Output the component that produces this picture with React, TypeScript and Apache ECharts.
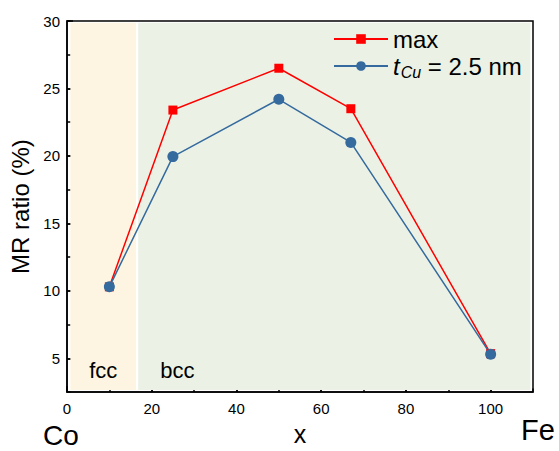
import React, { useEffect, useRef } from "react";
import * as echarts from "echarts";

const xValues = [10, 25, 50, 67, 100];
const maxValues = [10.3, 23.4, 26.5, 23.5, 5.35];
const tCuValues = [10.3, 19.95, 24.2, 21.0, 5.3];
const seriesNames = ["max", "tCu"];
const phaseNames = ["fcc", "bcc"];
const phaseRanges = [
  [0.8, 16.3],
  [16.8, 109.4],
];
const phaseColors = ["#fdf5e1", "#ebf2e5"];
const xTicks = { min: 0, max: 110, major: 20, minor: 10 };
const yTicks = { min: 2.5, max: 30, minor: 2.5 };
const endLabels = ["Co", "Fe"];

const FONT = "'Liberation Sans', Arial, sans-serif";

export default function App() {
  const ref = useRef<HTMLDivElement>(null);
  useEffect(() => {
    document.body.style.margin = "0";
    if (!ref.current) return;
    const chart = echarts.init(ref.current, null, { renderer: "svg" });
    const red = "#ff0000";
    const blue = "#356a9e";
    const markAreaData = phaseNames.map((name, i) => [
      {
        name,
        xAxis: phaseRanges[i][0],
        yAxis: 2.66,
        itemStyle: { color: phaseColors[i] },
        label:
          i === 0
            ? { show: true, position: "insideBottom", distance: 8, fontSize: 22, color: "#000", fontFamily: FONT }
            : { show: true, position: "insideBottomLeft", distance: 8, offset: [14, 0], fontSize: 22, color: "#000", fontFamily: FONT },
      },
      { xAxis: phaseRanges[i][1], yAxis: 29.87 },
    ]);
    chart.setOption({
      animation: false,
      textStyle: { fontFamily: FONT },
      grid: {
        left: 67,
        right: 26,
        top: 21,
        bottom: 57,
        show: true,
        borderColor: "#000",
        borderWidth: 1.5,
        backgroundColor: "#fff",
      },
      legend: {
        left: 333,
        top: 27,
        padding: 0,
        orient: "vertical",
        itemWidth: 54,
        itemHeight: 12,
        itemGap: 3,
        data: seriesNames,
        textStyle: {
          fontSize: 24,
          color: "#000",
          fontFamily: FONT,
          rich: {
            i: { fontSize: 24, fontStyle: "italic", fontFamily: FONT, color: "#000" },
            s: { fontSize: 16, fontStyle: "italic", fontFamily: FONT, color: "#000", padding: [12, 0, 0, 1] },
            n: { fontSize: 24, fontFamily: FONT, color: "#000" },
          },
        },
        formatter: (name: string) => (name === "tCu" ? "{i|t}{s|Cu}{n| = 2.5 nm}" : name),
      },
      graphic: [
        { type: "text", left: 43, top: 421, style: { text: endLabels[0], fontSize: 28, lineHeight: 26, fontFamily: FONT, fill: "#000" } },
        { type: "text", left: 521, top: 415, style: { text: endLabels[1], fontSize: 29, lineHeight: 26, fontFamily: FONT, fill: "#000" } },
      ],
      xAxis: [
        {
          type: "value",
          position: "bottom",
          min: xTicks.min,
          max: xTicks.max,
          interval: xTicks.major,
          name: "x",
          nameLocation: "middle",
          nameGap: 24,
          nameTextStyle: { fontSize: 25, color: "#000", fontFamily: FONT },
          axisLine: { show: true, lineStyle: { color: "#000", width: 1.5 } },
          axisTick: { show: true, inside: true, length: 6, lineStyle: { color: "#000", width: 1.5 } },
          axisLabel: { fontSize: 15, color: "#000", margin: 9, showMaxLabel: false },
          splitLine: { show: false },
        },
        {
          type: "value",
          position: "bottom",
          min: xTicks.min,
          max: xTicks.max,
          interval: xTicks.minor,
          axisLine: { show: false },
          axisTick: { show: true, inside: true, length: 3.5, lineStyle: { color: "#000", width: 1.5 } },
          axisLabel: { show: false },
          splitLine: { show: false },
        },
      ],
      yAxis: [
        {
          type: "value",
          position: "left",
          min: yTicks.min,
          max: yTicks.max,
          name: "MR ratio (%)",
          nameLocation: "middle",
          nameGap: 28,
          nameTextStyle: { fontSize: 24, color: "#000", fontFamily: FONT },
          axisLine: { show: true, lineStyle: { color: "#000", width: 1.5 } },
          axisTick: { show: true, inside: true, length: 6, lineStyle: { color: "#000", width: 1.5 } },
          axisLabel: { fontSize: 15, color: "#000", margin: 7, showMinLabel: false },
          splitLine: { show: false },
        },
        {
          type: "value",
          position: "left",
          min: yTicks.min,
          max: yTicks.max,
          interval: yTicks.minor,
          axisLine: { show: false },
          axisTick: { show: true, inside: true, length: 3.5, lineStyle: { color: "#000", width: 1.5 } },
          axisLabel: { show: false },
          splitLine: { show: false },
        },
      ],
      series: [
        {
          name: seriesNames[0],
          type: "line",
          xAxisIndex: 0,
          yAxisIndex: 0,
          data: xValues.map((x, i) => [x, maxValues[i]]),
          symbol: "rect",
          symbolSize: 9,
          lineStyle: { color: red, width: 1.5 },
          itemStyle: { color: red },
          markArea: { silent: true, data: markAreaData },
        },
        {
          name: seriesNames[1],
          type: "line",
          xAxisIndex: 0,
          yAxisIndex: 0,
          data: xValues.map((x, i) => [x, tCuValues[i]]),
          symbol: "circle",
          symbolSize: 11,
          lineStyle: { color: blue, width: 1.5 },
          itemStyle: { color: blue },
        },
      ],
    });
    return () => chart.dispose();
  }, []);
  return <div ref={ref} style={{ width: 559, height: 451 }} />;
}
